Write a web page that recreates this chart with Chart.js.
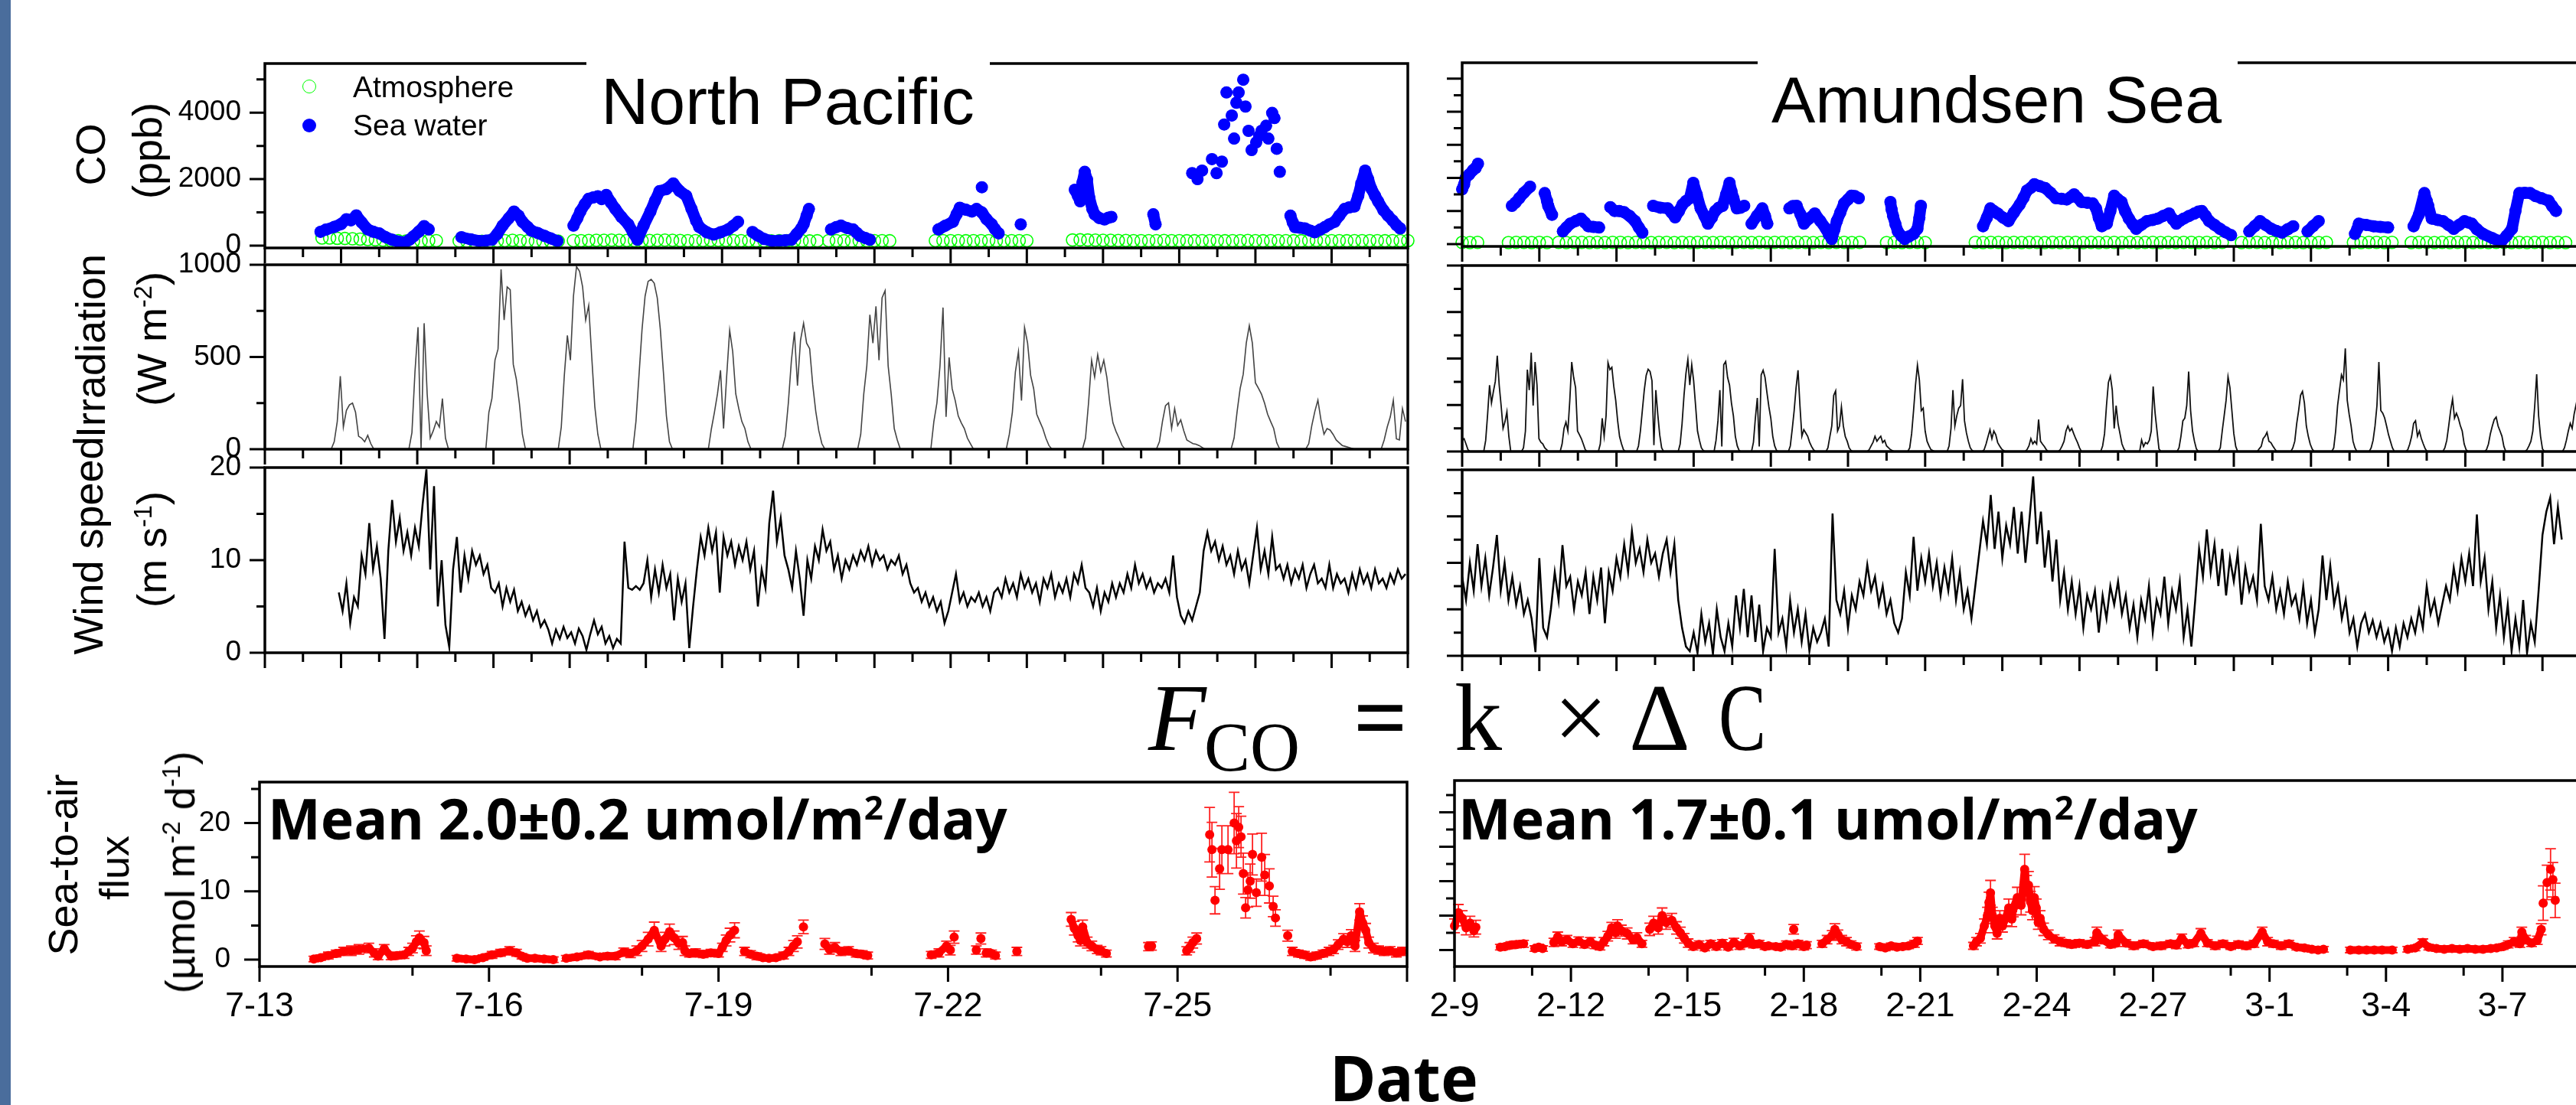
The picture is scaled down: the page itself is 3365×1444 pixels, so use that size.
<!DOCTYPE html>
<html>
<head>
<meta charset="utf-8">
<title>CO sea-to-air flux</title>
<script src="https://cdn.jsdelivr.net/npm/chart.js@4.4.1/dist/chart.umd.min.js"></script>
<style>
  html, body { margin: 0; padding: 0; background: #fff; }
  body { position: relative; width: 3365px; height: 1444px; overflow: hidden; }
  canvas { position: absolute; }
  .t { position: absolute; white-space: nowrap; line-height: 1; color: #000; }
  .rot { position: absolute; white-space: nowrap; line-height: 1; color: #000;
         font-family: 'Liberation Sans', Arial, sans-serif; font-size: 54px;
         transform: translate(-50%, -50%) rotate(-90deg); }
  sup { font-size: 0.6em; line-height: 0; vertical-align: 0.6em; }
  .mask { position: absolute; background: #fff; }
  .sym { position: absolute; width: 18px; height: 18px; border-radius: 50%; box-sizing: border-box; }
</style>
</head>
<body>
<div class="mask" style="left:0;top:0;width:14px;height:1444px;background:#4a6d9c"></div>
<script>
Chart.defaults.font.family = "'Liberation Sans', Arial, sans-serif";
Chart.defaults.color = '#000';

// ---- tick labels ----
const leftDateLabels = ['7-13', '7-16', '7-19', '7-22', '7-25'];
const leftDateDays = [0, 3, 6, 9, 12];
const rightDateLabels = ['2-9', '2-12', '2-15', '2-18', '2-21', '2-24', '2-27', '3-1', '3-4', '3-7'];
const rightDateDays = [0, 3, 6, 9, 12, 15, 18, 21, 24, 27];
const coTickLabels = [0, 2000, 4000];
const irrTickLabels = [0, 500, 1000];
const windTickLabels = [0, 10, 20];
const fluxTickLabels = [0, 10, 20];

// ---- CO (ppb), x = days since first date ----
const coSeaLeft = [
  [0.73,416],[0.8,480],[0.91,562],[1.0,650],[1.07,793],[1.13,760],[1.2,909],[1.27,700],[1.35,486],[1.42,420],[1.5,370],[1.58,260],[1.67,177],[1.75,120],[1.84,100],[1.9,180],[1.95,277],[2.02,420],[2.09,586],[2.15,486], null,
  [2.58,254],[2.7,190],[2.81,139],[2.9,150],[2.98,177],[3.05,350],[3.12,601],[3.2,820],[3.27,1025],[3.33,900],[3.38,717],[3.45,560],[3.5,447],[3.58,380],[3.67,293],[3.75,220],[3.84,139], null,
  [4.05,601],[4.1,820],[4.14,1025],[4.2,1250],[4.25,1410],[4.31,1450],[4.37,1487],[4.42,1400],[4.48,1525],[4.54,1300],[4.6,1102],[4.68,860],[4.77,640],[4.83,400],[4.89,177],[4.97,600],[5.06,1025],[5.12,1350],[5.18,1641],[5.27,1700],[5.36,1872],[5.44,1650],[5.53,1500],[5.6,1100],[5.66,750],[5.7,563],[5.8,400],[5.89,331],[5.98,400],[6.08,486],[6.15,600],[6.21,717], null,
  [6.4,409],[6.47,300],[6.55,200],[6.66,139],[6.75,150],[6.83,160],[6.91,177],[6.98,350],[7.04,520],[7.07,640],[7.11,900],[7.14,1102], null,
  [7.43,486],[7.5,560],[7.56,601],[7.64,530],[7.72,486],[7.77,380],[7.81,293],[7.88,230],[7.94,177], null,
  [8.84,486],[8.93,600],[9.03,717],[9.08,950],[9.12,1141],[9.2,1080],[9.28,1025],[9.34,1102],[9.41,1000],[9.47,800],[9.54,640],[9.58,500],[9.63,370], null,
  [9.41,1757], null, [9.92,640], null,
  [10.63,1680],[10.67,1500],[10.7,1333],[10.73,1900],[10.76,2219],[10.79,1988],[10.82,1448],[10.86,1100],[10.89,941],[10.95,830],[11.02,786],[11.07,840],[11.11,863], null,
  [11.66,941],[11.69,640], null,
  [12.17,2181], null, [12.24,2000], null, [12.3,2258], null, [12.43,2604], null, [12.49,2181], null, [12.56,2527], null,
  [12.59,3645], null, [12.62,4608], null, [12.69,3915], null, [12.72,3221], null, [12.75,4300], null, [12.78,4608], null,
  [12.84,4993], null, [12.87,4185], null, [12.91,3453], null, [12.95,2875], null, [13.01,3106], null, [13.05,3300], null,
  [13.08,3453], null, [13.14,3607], null, [13.17,3221], null, [13.22,3992], null, [13.25,3838], null, [13.28,2914], null, [13.32,2219], null,
  [13.46,902],[13.49,700],[13.52,555],[13.58,540],[13.65,517],[13.72,450],[13.78,401],[13.85,480],[13.91,555],[13.97,640],[14.04,717],[14.1,900],[14.17,1102],[14.23,1150],[14.3,1179],[14.35,1500],[14.39,1872],[14.44,2258],[14.48,2000],[14.52,1718],[14.57,1500],[14.61,1333],[14.68,1064],[14.74,900],[14.8,756],[14.85,620],[14.9,517]
];
const coSeaRight = [
  [0.0,1657],[0.05,1800],[0.09,2003],[0.18,2100],[0.28,2234],[0.35,2300],[0.41,2428], null,
  [1.29,1156],[1.38,1250],[1.48,1387],[1.6,1550],[1.76,1734], null,
  [2.14,1541],[2.2,1300],[2.23,1156],[2.33,886], null,
  [2.61,385],[2.7,500],[2.8,617],[2.95,700],[3.08,771],[3.18,650],[3.27,539],[3.4,520],[3.55,501], null,
  [3.84,1117],[3.95,1002],[4.07,1000],[4.2,963],[4.34,850],[4.48,694],[4.58,500],[4.67,347], null,
  [4.95,1156],[5.14,1100],[5.33,1079],[5.43,950],[5.52,809],[5.62,1000],[5.71,1194],[5.8,1300],[5.9,1387],[5.99,1849],[6.08,1500],[6.18,1079],[6.28,850],[6.37,617],[6.47,800],[6.56,1002],[6.65,1100],[6.75,1156],[6.84,1500],[6.93,1849],[6.98,1600],[7.03,1387],[7.12,1079],[7.22,1100],[7.31,1156], null,
  [7.5,617],[7.64,850],[7.78,1079],[7.85,850],[7.91,617], null,
  [8.48,1079],[8.57,1150],[8.67,1156],[8.77,900],[8.86,617],[9.0,780],[9.14,925],[9.28,700],[9.43,462],[9.5,300],[9.58,154],[9.65,450],[9.71,694],[9.8,950],[9.9,1233],[10.0,1350],[10.09,1464],[10.18,1450],[10.28,1387], null,
  [11.1,1272],[11.13,1050],[11.17,848],[11.23,600],[11.29,385],[11.38,250],[11.47,154],[11.58,230],[11.7,308],[11.8,462],[11.85,800],[11.89,1156], null,
  [13.5,539],[13.6,800],[13.69,1079],[13.78,1000],[13.88,925],[14.02,800],[14.16,694],[14.3,950],[14.45,1194],[14.55,1400],[14.64,1618],[14.74,1700],[14.83,1811],[14.97,1750],[15.11,1695],[15.25,1550],[15.39,1387],[15.53,1370],[15.67,1349],[15.77,1420],[15.86,1503],[15.95,1400],[16.05,1272],[16.2,1250],[16.34,1233],[16.43,1079],[16.5,800],[16.58,539],[16.71,617],[16.8,1000],[16.9,1464],[17.0,1350],[17.09,1272],[17.18,1000],[17.28,771],[17.38,600],[17.47,462],[17.6,580],[17.75,694],[17.9,730],[18.03,771],[18.17,850],[18.32,925],[18.42,750],[18.51,617],[18.6,700],[18.7,771],[18.84,850],[18.98,925],[19.08,980],[19.17,1002],[19.27,850],[19.36,694],[19.5,580],[19.64,462],[19.78,360],[19.93,270], null,
  [20.4,385],[20.54,540],[20.68,694],[20.82,580],[20.97,462],[21.1,400],[21.25,347],[21.4,450],[21.54,539], null,
  [21.91,385],[22.05,540],[22.2,694], null,
  [23.14,308],[23.2,460],[23.24,617],[23.43,580],[23.62,539],[23.8,520],[24.0,501], null,
  [24.66,539],[24.8,900],[24.94,1541],[25.0,1300],[25.04,1156],[25.13,771],[25.28,730],[25.42,694],[25.56,580],[25.7,462],[25.84,580],[25.98,694],[26.08,650],[26.17,617],[26.3,450],[26.46,308],[26.7,180],[26.93,77],[27.07,250],[27.21,462],[27.3,1002],[27.4,1541],[27.54,1550],[27.68,1541],[27.82,1450],[27.97,1387],[28.16,1310],[28.25,1150],[28.35,1002]
];
// atmosphere: [first day, values every atmLeftStep / atmRightStep days]
const atmLeftStep = 0.1;
const atmLeft = [
  [0.75, [230,230,220,215,205,195,185,175,165,155,145,135,130,140,150,150]],
  [2.55, [140,135,130,130,135,140,150,160,150,140,135,130,130,135]],
  [4.05, [150,150,155,160,160,165,160,155,150,150,155,160,165,160,155,150,150,155,160,160,155,150,150]],
  [6.35, [150,145,140,140,145,150,150,145,140,145]],
  [7.4, [150,150,145,140,140,145,150,150,145]],
  [8.8, [150,150,150]],
  [9.1, [150,145,150]],
  [9.4, [150,150,145,150,150]],
  [9.9, [150,150]],
  [10.6, [170,175,170,165,160,160,155,155,150,150,150,150,155,150,150,145,145,150,150,150,145,150,150,155,150,145,150,150,150,145,145,150,155,150,150,150,145,150,150,150,150,145,150,150,150]]
];
const atmRightStep = 0.2;
const atmRight = [
  [0.0, [50,45,50]],
  [1.2, [45,50,50,45,50,45]],
  [2.5, [50,45,50,50,45,50,45,50,50,45,50,45]],
  [4.9, [45,50,50,45,50,45,50,50,45,50,45,50,50,45,50,45,50]],
  [8.3, [50,45,50,50,45,50,45,50,50,45,50]],
  [11.0, [45,50,45,50,50,45]],
  [13.3, [50,45,50,50,45,50,45,50,50,45,50,45,50,50,45,50,45,50,50,45,50,45,50,50,45,50,45,50,50,45,50,45,50]],
  [20.2, [45,50,50,45,50,45,50,50,45,50,45,50]],
  [23.1, [50,45,50,50,45,50]],
  [24.6, [45,50,50,45,50,45,50,50,45,50,45,50,50,45,50,45,50,50,45,50,45]]
];

// ---- irradiation (W m-2): [first day, values every step] for each daylight period ----
const irrLeftStep = 0.04;
const irrLeft = [
  [0.87, [0,40,150,396,120,210,240,250,200,70,60,40,75,30,0]],
  [1.89, [0,90,420,662,0,683,300,60,100,150,120,275,60,0]],
  [2.90, [0,200,275,483,543,975,700,880,865,460,380,250,80,0]],
  [3.85, [0,120,400,617,483,830,990,964,880,700,780,500,232,80,0]],
  [4.83, [0,150,400,650,830,910,921,900,820,650,420,180,40,0]],
  [5.82, [0,110,200,300,428,112,391,645,529,300,220,150,112,40,0]],
  [6.79, [0,70,250,480,637,345,591,683,575,545,350,205,100,30,0]],
  [7.78, [0,80,300,452,729,575,775,483,821,860,452,298,112,50,0]],
  [8.74, [0,150,251,450,768,175,498,328,264,180,143,112,60,30,0]],
  [9.73, [0,80,200,420,529,264,660,575,400,328,190,150,112,60,20,0]],
  [10.73, [0,60,251,483,391,513,420,483,391,250,143,97,60,20,0]],
  [11.70, [0,40,150,236,251,112,220,128,159,100,50,40,30,27,20,10,0]],
  [12.68, [0,60,205,330,406,575,670,575,360,330,298,250,190,150,112,35,0]],
  [13.66, [0,30,128,205,266,159,81,112,104,80,50,35,20,15,10,5,0]],
  [14.65, [0,50,120,175,266,56,50,220,150]]
];
const irrRightStep = 0.05;
const irrRight = [
  [0.0, [60,69,40,10,0]],
  [0.56, [0,60,200,357,261,323,378,515,357,247,124,160,213,82,0]],
  [1.54, [0,20,110,440,330,532,247,481,357,69,50,41,20,10,0]],
  [2.54, [0,40,124,158,110,275,481,398,343,110,90,69,40,10,0]],
  [3.53, [0,40,179,82,192,478,440,453,350,275,165,80,41,10,0]],
  [4.52, [0,30,110,220,330,410,442,430,380,34,330,200,90,20,0]],
  [5.60, [0,40,150,302,419,495,357,467,380,247,110,60,20,5,0]],
  [6.53, [0,60,165,330,27,467,484,398,357,260,192,82,30,5,0]],
  [7.50, [0,50,180,288,27,412,437,398,316,240,179,82,30,5,0]],
  [8.455, [0,30,120,220,343,437,247,82,117,100,82,50,27,10,0]],
  [9.43, [0,20,80,137,302,326,110,137,240,137,80,55,20,5,0]],
  [10.5, [0,10,30,50,82,55,70,82,48,60,30,20,10,5,0]],
  [11.55, [0,20,96,220,357,464,385,220,233,110,55,30,10,5,0]],
  [12.57, [0,30,124,330,137,192,233,247,389,165,100,55,20,5,0]],
  [13.48, [0,10,41,80,117,69,110,90,48,30,14,5,0]],
  [14.59, [0,10,30,69,41,55,40,172,55,40,27,10,0]],
  [15.45, [0,10,30,55,110,137,110,124,96,70,48,20,0]],
  [16.55, [0,30,96,247,371,405,330,124,247,150,96,41,15,0]],
  [17.56, [0,62,27,48,41,60,110,350,206,110,14,0]],
  [18.53, [0,20,82,165,179,247,430,220,110,55,14,0]],
  [19.60, [0,20,110,192,275,402,343,220,96,27,0]],
  [20.61, [0,15,27,69,82,103,55,48,30,14,0]],
  [21.48, [0,20,55,150,220,302,323,261,137,82,40,14,0]],
  [22.54, [0,20,110,247,330,412,385,554,275,200,137,55,20,0]],
  [23.51, [0,20,60,137,247,481,220,206,180,137,90,55,20,0]],
  [24.46, [0,10,40,82,151,165,82,110,70,41,15,0]],
  [25.42, [0,20,60,137,220,282,179,206,179,140,110,41,10,0]],
  [26.50, [0,10,40,96,137,172,185,137,110,82,27,0]],
  [27.55, [0,10,30,55,110,247,415,192,82,14,0]],
  [28.52, [0,20,60,110,151,124,200,250,200,120,60,20,0]]
];

// ---- wind speed (m s-1) ----
const windLeftStart = 0.97, windLeftStep = 0.05;
const windLeft = [
  6.5,4.5,7.5,3.2,6.0,5.0,10.5,8.5,14.0,9.0,11.5,8.0,1.5,11.0,16.5,12.0,14.5,11.0,13.0,10.5,
  13.5,11.5,16.0,19.8,9.0,18.0,5.0,10.0,3.0,0.6,9.0,12.5,6.5,10.5,8.0,11.0,9.5,10.5,8.5,9.5,
  7.0,6.5,7.5,5.0,7.0,5.5,6.8,4.5,5.5,4.0,5.0,3.5,4.5,2.8,3.5,2.5,1.0,2.5,1.5,2.8,
  1.6,2.2,1.0,2.6,1.8,0.3,2.0,3.5,2.0,2.8,1.0,1.8,0.5,1.5,1.0,12.0,7.0,6.8,7.2,6.8,
  7.5,10.0,6.0,9.0,6.5,9.5,7.0,8.5,3.5,8.0,5.5,7.5,0.5,5.0,9.0,12.5,10.5,13.5,11.0,13.0,
  6.5,12.5,10.5,12.0,9.5,11.5,10.0,12.0,9.0,11.0,5.0,9.0,7.0,14.0,17.5,12.0,14.5,10.5,9.0,7.0,
  11.0,8.0,4.0,10.0,8.0,11.5,10.0,13.3,11.0,12.0,9.0,10.5,8.0,10.0,9.0,10.5,9.5,11.0,10.0,11.5,
  9.5,11.0,10.0,10.5,9.0,10.0,9.5,10.5,8.5,9.5,7.5,6.5,7.0,5.5,6.5,5.0,6.0,4.5,5.5,3.2,
  4.5,6.5,8.5,5.5,6.5,5.0,6.0,5.5,6.5,5.0,6.0,4.5,6.5,7.0,6.0,8.0,6.5,7.5,6.0,8.5,
  7.0,8.0,6.5,7.5,5.5,8.0,7.0,8.5,6.0,7.5,6.5,8.0,6.0,8.5,7.5,9.5,7.0,6.5,5.0,7.0,
  4.5,6.5,5.5,7.5,6.0,7.5,6.5,8.5,7.0,9.5,7.5,8.5,7.0,8.0,6.5,7.5,7.0,8.0,6.5,10.5,
  6.0,4.0,3.2,4.5,3.5,5.0,6.5,11.0,13.0,11.0,12.0,10.0,11.5,9.5,10.5,8.5,11.0,9.0,10.0,7.5,
  10.5,13.5,9.0,11.0,8.5,12.5,9.0,9.5,8.0,9.5,7.5,9.0,8.0,9.5,7.0,8.5,9.5,7.5,8.0,7.0,
  9.5,7.0,8.5,7.5,8.0,6.5,8.5,7.0,9.0,7.5,8.5,7.0,9.0,7.5,8.0,7.0,8.5,7.5,9.0,8.0,
  8.5
];
const windRightStart = 0, windRightStep = 0.1;
const windRight = [
  8.5,6.0,10.0,7.0,12.0,7.5,10.5,6.5,9.5,13.0,7.0,10.0,6.0,8.5,5.5,7.5,4.5,6.0,4.0,
  0.4,10.5,3.0,2.0,5.0,
  9.0,6.0,11.9,7.5,8.5,5.0,8.0,6.5,9.0,4.5,8.5,6.0,9.5,3.5,9.0,7.0,
  10.5,8.5,12.0,9.0,13.4,10.0,11.5,9.0,12.5,10.0,11.0,8.5,11.0,12.5,9.0,12.0,6.0,
  3.0,1.0,0.5,
  2.5,0.3,4.5,1.5,3.5,0.2,5.0,2.0,0.5,3.5,1.0,6.5,3.0,7.2,2.0,6.5,1.5,5.5,0.5,3.0,2.0,11.5,2.5,4.0,1.0,6.0,2.5,5.0,1.5,4.5,0.5,3.0,1.5,2.5,4.0,1.0,
  15.3,
  6.0,4.5,7.0,3.0,6.5,5.0,8.0,6.5,9.8,7.0,8.5,5.5,7.5,4.5,6.0,3.5,2.5,4.0,
  9.0,6.5,12.8,7.0,10.5,8.0,11.0,7.5,10.0,6.5,9.5,7.0,10.5,6.0,9.0,5.0,7.0,4.0,7.5,
  11.0,14.5,12.0,17.3,11.5,15.5,10.5,14.0,12.0,16.0,11.0,15.5,10.0,14.5,19.3,12.0,15.5,9.5,13.5,8.0,12.5,
  6.0,9.0,5.0,8.0,4.5,7.5,3.0,6.5,5.0,7.0,2.5,6.5,4.0,7.5,5.5,8.0,4.5,6.5,3.0,5.5,2.0,6.0,4.0,7.5,2.5,6.0,4.5,8.5,3.5,7.0,5.0,8.0,2.0,5.0,1.0,
  6.0,11.5,8.5,13.6,9.0,12.0,7.5,11.5,6.5,10.5,8.0,11.0,5.5,9.5,7.0,8.5,6.0,
  14.2,
  7.5,6.0,8.5,5.0,7.0,4.5,8.0,5.5,6.5,4.0,7.5,3.5,6.0,2.5,5.0,10.8,6.0,9.7,5.5,7.5,4.0,6.0,2.5,
  4.0,1.0,3.5,4.5,2.5,3.8,2.0,3.5,1.5,2.8,0.5,3.0,1.0,3.5,2.0,4.0,2.5,5.0,3.0,7.5,4.5,6.0,3.5,
  5.5,7.5,6.0,9.5,7.0,10.5,8.0,11.0,7.5,15.2,8.0,10.5,5.0,8.0,3.0,6.5,
  2.0,5.5,0.5,4.0,1.0,6.0,0.3,3.5,1.5,7.0,
  13.0,15.5,17.0,12.0,16.0,12.5
];

// ---- sea-to-air flux (umol m-2 d-1): [day, value, error] ----
const fluxLeft = [
  [0.71,0.1,0.4],[0.8,0.3,0.4],[0.9,0.6,0.5],[1.0,0.9,0.5],[1.1,1.2,0.6],[1.2,1.3,0.7],[1.3,1.5,0.7],[1.43,1.7,0.7],[1.5,1.0,0.6],[1.55,0.5,0.5],[1.63,1.6,0.6],[1.72,0.5,0.5],[1.8,0.6,0.5],[1.89,0.7,0.5],[1.95,1.2,0.6],[2.0,1.7,0.7],[2.05,2.6,0.9],[2.09,3.2,1.0],[2.15,2.5,0.9],[2.18,1.3,0.7], null,
  [2.58,0.2,0.4],[2.7,0.1,0.4],[2.81,0.0,0.4],[2.92,0.3,0.4],[3.04,0.7,0.5],[3.15,1.0,0.5],[3.27,1.3,0.6],[3.36,1.0,0.5],[3.43,0.5,0.4],[3.5,0.2,0.4],[3.6,0.2,0.4],[3.72,0.1,0.4],[3.84,0.0,0.4], null,
  [4.01,0.2,0.4],[4.15,0.4,0.4],[4.3,0.7,0.5],[4.45,0.4,0.4],[4.55,0.5,0.5],[4.65,0.5,0.5],[4.76,1.1,0.6],[4.85,0.9,0.6],[4.93,1.3,0.7],[5.0,2.0,0.8],[5.08,3.0,1.0],[5.16,4.3,1.2],[5.25,2.0,0.8],[5.3,3.0,1.0],[5.36,4.1,1.1],[5.42,3.2,1.0],[5.48,2.4,0.9],[5.53,2.5,0.9],[5.56,1.3,0.7],[5.62,0.9,0.5],[5.7,1.0,0.6],[5.8,0.8,0.5],[5.9,1.0,0.5],[6.0,0.9,0.5],[6.05,1.8,0.6],[6.1,2.8,0.8],[6.15,3.6,1.0],[6.21,4.3,1.1], null,
  [6.34,1.2,0.6],[6.42,0.8,0.5],[6.5,0.5,0.5],[6.58,0.3,0.4],[6.66,0.2,0.4],[6.75,0.3,0.4],[6.85,0.6,0.5],[6.92,1.2,0.6],[6.98,2.0,0.8],[7.03,2.6,0.9], null, [7.11,4.8,1.0], null,
  [7.39,2.3,0.8],[7.45,1.5,0.7],[7.52,1.8,0.7],[7.6,1.2,0.6],[7.7,1.3,0.6],[7.8,0.9,0.5],[7.88,0.8,0.5],[7.95,0.6,0.5], null,
  [8.78,0.7,0.5],[8.88,1.0,0.6],[8.98,2.0,0.7],[9.03,1.4,0.7], null, [9.08,3.3,0.9], null,
  [9.37,1.4,0.6], null, [9.43,3.1,0.8], null, [9.5,1.0,0.6],[9.57,0.9,0.5],[9.62,0.6,0.5], null, [9.9,1.2,0.6], null,
  [10.61,5.9,1.0],[10.65,4.6,1.0],[10.7,3.5,0.9],[10.73,2.8,0.8],[10.76,4.8,1.0],[10.82,2.5,0.8],[10.88,2.0,0.7],[10.95,1.5,0.6],[11.0,1.3,0.6],[11.07,0.9,0.5], null,
  [11.62,1.9,0.6],[11.66,2.0,0.6], null,
  [12.12,1.3,0.6],[12.16,1.8,0.7],[12.2,2.5,0.8],[12.25,3.1,0.8], null,
  [12.42,18.3,4.0], null, [12.45,16.1,4.0], null, [12.49,8.7,2.0], null, [12.55,13.3,3.0], null, [12.58,16.1,3.5], null,
  [12.66,16.1,3.5], null, [12.74,20.0,4.5], null, [12.77,17.4,4.0], null, [12.8,19.4,3.0], null, [12.83,18.0,3.0], null,
  [12.86,12.6,3.0], null, [12.89,7.6,1.5], null, [12.92,10.2,2.5], null, [12.95,11.5,2.5], null, [12.98,15.4,3.0], null,
  [13.03,9.8,2.0], null, [13.1,15.0,3.5], null, [13.14,12.4,3.0], null, [13.2,10.8,2.5], null, [13.25,7.8,1.5], null,
  [13.28,6.1,1.2], null, [13.44,3.5,0.8], null,
  [13.5,1.2,0.6],[13.58,0.9,0.5],[13.66,0.7,0.5],[13.74,0.4,0.5],[13.82,0.6,0.5],[13.9,0.9,0.5],[13.98,1.2,0.6],[14.04,1.5,0.6],[14.1,2.2,0.7],[14.17,3.0,0.8],[14.22,2.6,0.8],[14.27,3.5,0.9],[14.32,2.0,0.8],[14.38,7.0,1.2],[14.42,5.4,1.0],[14.46,4.3,1.0],[14.5,2.5,0.8],[14.56,1.7,0.7],[14.63,1.4,0.6],[14.7,1.2,0.6],[14.78,1.3,0.6],[14.86,1.0,0.6],[14.94,1.2,0.6]
];
const fluxRight = [
  [0.0,3.5,1.0],[0.1,5.4,1.2],[0.2,4.6,1.1],[0.3,3.2,1.0],[0.4,3.9,1.0],[0.5,2.8,0.9],[0.55,3.3,1.0], null,
  [1.18,0.4,0.4],[1.3,0.5,0.4],[1.45,0.7,0.5],[1.6,0.8,0.5],[1.78,0.9,0.5], null,
  [2.07,0.2,0.4],[2.17,0.4,0.4],[2.27,0.2,0.4], null,
  [2.56,1.1,0.6],[2.66,1.9,0.7],[2.76,1.2,0.6],[2.9,1.5,0.6],[3.05,0.9,0.5],[3.2,1.3,0.6],[3.35,0.8,0.5],[3.5,1.2,0.6],[3.62,0.7,0.5],[3.75,0.5,0.5], null,
  [3.85,1.2,0.6],[3.95,2.0,0.7],[4.05,3.2,0.8],[4.15,2.5,0.8],[4.2,3.5,0.9],[4.3,2.8,0.8],[4.45,2.4,0.8],[4.6,1.5,0.6],[4.7,1.8,0.7],[4.83,0.9,0.5], null,
  [5.03,3.0,0.9],[5.13,3.9,1.0],[5.25,3.2,0.9],[5.35,5.0,1.1],[5.45,4.0,1.0],[5.6,4.3,1.0],[5.72,3.2,0.9],[5.82,2.5,0.8],[5.92,1.7,0.7],[6.02,1.0,0.6],[6.15,0.5,0.5],[6.3,0.8,0.5],[6.45,0.3,0.4],[6.6,0.9,0.5],[6.75,0.5,0.5],[6.9,1.0,0.5],[7.05,0.4,0.4],[7.2,1.1,0.6],[7.35,0.6,0.5],[7.5,1.0,0.5],[7.6,1.7,0.7],[7.7,0.8,0.5],[7.85,0.9,0.5],[8.0,0.5,0.4],[8.09,0.6,0.4], null,
  [8.28,0.5,0.4],[8.4,0.4,0.4],[8.55,0.8,0.5],[8.7,0.6,0.5],[8.85,0.9,0.5],[9.0,0.5,0.5],[9.07,0.7,0.5], null, [8.74,3.0,0.7], null,
  [9.47,0.9,0.5],[9.6,1.5,0.6],[9.73,2.1,0.7],[9.8,3.0,0.8],[9.88,2.2,0.7],[9.98,1.5,0.6],[10.1,1.2,0.6],[10.22,0.8,0.5],[10.36,0.5,0.5], null,
  [10.95,0.5,0.4],[11.1,0.3,0.4],[11.25,0.6,0.4],[11.4,0.4,0.4],[11.55,0.5,0.4],[11.7,0.6,0.4],[11.85,0.9,0.5],[11.93,1.3,0.5], null,
  [13.37,0.6,0.5],[13.45,1.2,0.6],[13.55,1.7,0.7],[13.65,3.5,1.0],[13.73,5.0,1.2],[13.77,6.9,1.5],[13.81,8.3,1.8],[13.86,5.0,1.2],[13.92,3.5,1.0],[13.98,2.4,0.8],[14.05,4.6,1.1],[14.12,3.5,0.9],[14.2,4.6,1.1],[14.28,6.1,1.3],[14.36,4.5,1.1],[14.4,6.1,1.3],[14.5,7.6,1.5],[14.6,6.5,1.4],[14.69,11.7,2.2],[14.74,9.0,1.8],[14.79,9.4,2.0],[14.84,7.0,1.5],[14.89,5.7,1.3],[14.94,7.6,1.6],[14.99,6.1,1.3],[15.04,4.0,1.0],[15.09,4.6,1.1],[15.18,3.0,0.9],[15.3,2.2,0.7],[15.45,1.6,0.6],[15.6,1.2,0.6],[15.75,1.0,0.5],[15.9,0.8,0.5],[15.98,0.9,0.5],
  [16.1,1.0,0.5],[16.3,0.8,0.5],[16.5,1.2,0.6],[16.55,2.5,0.8],[16.7,1.5,0.6],[16.9,0.8,0.5],[17.05,1.0,0.5],[17.1,2.2,0.7],[17.3,1.0,0.5],[17.5,0.6,0.5],[17.75,0.9,0.5],[18.0,0.5,0.4],[18.2,0.6,0.5],[18.45,0.9,0.5],[18.6,0.7,0.5],[18.74,1.7,0.6],[18.9,0.8,0.5],[19.05,1.0,0.5],[19.23,2.4,0.7],[19.4,1.0,0.5],[19.6,0.6,0.5],[19.8,0.9,0.5],[20.0,0.5,0.4],[20.2,0.8,0.5],[20.4,0.6,0.5],[20.6,0.9,0.5],[20.81,2.6,0.7],[20.95,1.2,0.6],[21.1,0.9,0.5],[21.3,0.6,0.5],[21.5,0.9,0.5],[21.7,0.4,0.4],[21.9,0.3,0.4],[22.09,0.1,0.4],[22.25,0.0,0.4],[22.39,0.1,0.4], null,
  [23.08,0.0,0.4],[23.3,0.0,0.4],[23.5,0.0,0.4],[23.7,0.0,0.4],[23.9,0.0,0.4],[24.16,0.0,0.4], null,
  [24.56,0.1,0.4],[24.75,0.3,0.4],[24.95,1.1,0.5],[25.1,0.4,0.4],[25.3,0.2,0.4],[25.5,0.1,0.4],[25.7,0.2,0.4],[25.9,0.1,0.4],[26.1,0.2,0.4],[26.3,0.1,0.4],[26.5,0.1,0.4],[26.7,0.2,0.4],[26.85,0.3,0.4],[27.02,0.5,0.4],[27.15,0.8,0.5],[27.3,1.2,0.6],[27.45,0.9,0.5],[27.5,2.6,0.7],[27.6,1.5,0.6],[27.75,1.0,0.5],[27.9,1.4,0.6],[28.0,3.0,0.8], null,
  [28.05,6.8,2.5], null, [28.15,9.8,2.5], null, [28.24,11.7,3.0], null, [28.3,10.2,2.5], null, [28.36,7.2,2.5]
];

// ---- helpers ----
function pairs(list) {
  const out = [];
  let lastX = 0;
  for (const p of list) {
    if (p) { out.push({x: p[0], y: p[1], e: p[2]}); lastX = p[0]; }
    else out.push({x: lastX, y: null});
  }
  return out;
}
function stepped(segs, step) {
  const out = [];
  for (const [start, vals] of segs) {
    vals.forEach((v, i) => out.push({x: +(start + i * step).toFixed(3), y: v}));
  }
  return out;
}
function series(start, step, vals) {
  return vals.map((v, i) => ({x: +(start + i * step).toFixed(3), y: v}));
}
function range(a, b, s) {
  const r = [];
  for (let v = a; v <= b + 1e-9; v += s) r.push(+v.toFixed(3));
  return r;
}

// frame + outward tick marks, through the chart scales
const framePlugin = {
  id: 'frame',
  afterDraw(chart, args, o) {
    const {ctx, chartArea: a} = chart;
    const sx = chart.scales.x, sy = chart.scales.y;
    ctx.save();
    ctx.strokeStyle = '#000';
    ctx.lineWidth = 3.5;
    ctx.strokeRect(a.left, a.top, a.right - a.left, a.bottom - a.top);
    ctx.lineWidth = 3;
    ctx.beginPath();
    for (const [vals, len] of [[o.xMajor, 20], [o.xMinor, 12]]) {
      for (const v of vals) {
        const px = sx.getPixelForValue(v);
        ctx.moveTo(px, a.bottom); ctx.lineTo(px, a.bottom + len);
      }
    }
    for (const [vals, len] of [[o.yMajor, 20], [o.yMinor, 11]]) {
      for (const v of vals) {
        const py = sy.getPixelForValue(v);
        ctx.moveTo(a.left, py); ctx.lineTo(a.left - len, py);
      }
    }
    ctx.stroke();
    ctx.restore();
  }
};

const errPlugin = {
  id: 'errbars',
  beforeDatasetsDraw(chart, args, o) {
    if (!o.on) return;
    const {ctx} = chart;
    const sx = chart.scales.x, sy = chart.scales.y;
    ctx.save();
    ctx.strokeStyle = o.color;
    ctx.lineWidth = 1.8;
    ctx.beginPath();
    for (const p of chart.data.datasets[0].data) {
      if (p.y == null || !p.e) continue;
      const px = sx.getPixelForValue(p.x);
      const y1 = sy.getPixelForValue(p.y - p.e), y2 = sy.getPixelForValue(p.y + p.e);
      ctx.moveTo(px, y1); ctx.lineTo(px, y2);
      ctx.moveTo(px - 7, y1); ctx.lineTo(px + 7, y1);
      ctx.moveTo(px - 7, y2); ctx.lineTo(px + 7, y2);
    }
    ctx.stroke();
    ctx.restore();
  }
};

function panel(b, xr, yr, datasets, frame, yl, xl, err) {
  const c = document.createElement('canvas');
  c.width = b.w + b.mL + b.mR;
  c.height = b.h + b.mT + b.mB;
  c.style.left = (b.x - b.mL) + 'px';
  c.style.top = (b.y - b.mT) + 'px';
  document.body.appendChild(c);
  new Chart(c, {
    type: 'scatter',
    data: {datasets},
    options: {
      responsive: false,
      animation: false,
      events: [],
      layout: {padding: {top: b.mT, right: b.mR, left: 0, bottom: 0}},
      plugins: {
        legend: {display: false},
        tooltip: {enabled: false},
        frame,
        errbars: err || {on: false}
      },
      scales: {
        x: {
          type: 'linear', min: xr[0], max: xr[1],
          grid: {display: false, drawTicks: false},
          border: {display: false},
          ticks: xl ? {display: true, font: {size: 45}, padding: 26, maxRotation: 0, autoSkip: false,
                       callback: (v, i) => xl.labels[i]} : {display: false},
          afterBuildTicks: xl ? (s => { s.ticks = xl.days.map(v => ({value: v})); }) : undefined,
          afterFit: s => { s.height = b.mB; s.paddingLeft = 0; s.paddingRight = 0; }
        },
        y: {
          type: 'linear', min: yr[0], max: yr[1],
          grid: {display: false, drawTicks: false},
          border: {display: false},
          ticks: yl ? {display: true, font: {size: 37}, padding: yl.pad, autoSkip: false,
                       callback: v => String(v)} : {display: false},
          afterBuildTicks: yl ? (s => { s.ticks = yl.vals.map(v => ({value: v})); }) : undefined,
          afterFit: s => { s.width = b.mL; s.paddingTop = 0; s.paddingBottom = 0; }
        }
      }
    },
    plugins: [framePlugin, errPlugin]
  });
}

const ringStyle = {showLine: false, pointRadius: 8, pointBorderWidth: 1.6, pointBorderColor: '#00ff00',
                   pointBackgroundColor: 'rgba(0,0,0,0)', order: 2, clip: 14};
const blueStyle = {showLine: true, spanGaps: false, borderColor: '#0000ff', borderWidth: 15,
                   borderCapStyle: 'round', borderJoinStyle: 'round', pointRadius: 8, pointBorderWidth: 0,
                   pointBackgroundColor: '#0000ff', order: 1, clip: 14};
const redStyle = {showLine: true, spanGaps: false, borderColor: '#ff0000', borderWidth: 10,
                  borderCapStyle: 'round', borderJoinStyle: 'round', pointRadius: 6, pointBorderWidth: 0,
                  pointBackgroundColor: '#ff0000', clip: 20};
const irrStyle = {showLine: true, borderColor: '#444', borderWidth: 1.6, pointRadius: 0};
const windStyle = {showLine: true, borderColor: '#000', borderWidth: 2.5, pointRadius: 0};

// ---- left column (North Pacific) ----
const upL = {xMajor: range(0, 15, 1), xMinor: range(0.5, 14.5, 1)};
panel({x: 346, y: 83, w: 1493, h: 241, mL: 170, mR: 12, mT: 30, mB: 40}, [0, 15], [-70, 5480],
  [{...ringStyle, data: stepped(atmLeft, atmLeftStep)}, {...blueStyle, data: pairs(coSeaLeft)}],
  {...upL, yMajor: [0, 2000, 4000], yMinor: [1000, 3000, 5000]}, {vals: coTickLabels, pad: 31});
panel({x: 346, y: 346, w: 1493, h: 241, mL: 170, mR: 12, mT: 30, mB: 40}, [0, 15], [0, 1000],
  [{...irrStyle, data: stepped(irrLeft, irrLeftStep)}],
  {...upL, yMajor: [0, 500, 1000], yMinor: [250, 750]}, {vals: irrTickLabels, pad: 31});
panel({x: 346, y: 611, w: 1493, h: 242, mL: 170, mR: 12, mT: 30, mB: 40}, [0, 15], [0, 20],
  [{...windStyle, data: series(windLeftStart, windLeftStep, windLeft)}],
  {...upL, yMajor: [0, 10, 20], yMinor: [5, 15]}, {vals: windTickLabels, pad: 31});
panel({x: 339, y: 1022, w: 1499, h: 241, mL: 170, mR: 12, mT: 30, mB: 110}, [0, 15], [-1, 26],
  [{...redStyle, data: pairs(fluxLeft)}],
  {xMajor: [0, 3, 6, 9, 12, 15], xMinor: [2, 5, 8, 11, 14], yMajor: [0, 10, 20], yMinor: [5, 15, 25]},
  {vals: fluxTickLabels, pad: 38}, {labels: leftDateLabels, days: leftDateDays}, {on: true, color: '#ff2020'});

// ---- right column (Amundsen Sea) ----
const upR = {xMajor: range(0, 30, 2), xMinor: range(1, 29, 2)};
panel({x: 1910, y: 82, w: 1512, h: 240, mL: 60, mR: 12, mT: 30, mB: 40}, [0, 30], [-70, 5480],
  [{...ringStyle, data: stepped(atmRight, atmRightStep)}, {...blueStyle, data: pairs(coSeaRight)}],
  {...upR, yMajor: range(0, 5000, 1000), yMinor: range(500, 4500, 1000)}, null);
panel({x: 1910, y: 347, w: 1512, h: 243, mL: 60, mR: 12, mT: 30, mB: 40}, [0, 30], [0, 1000],
  [{...irrStyle, borderColor: '#111', borderWidth: 1.8, data: stepped(irrRight, irrRightStep)}],
  {...upR, yMajor: [0, 250, 500, 750, 1000], yMinor: [125, 375, 625, 875]}, null);
panel({x: 1910, y: 614, w: 1512, h: 243, mL: 60, mR: 12, mT: 30, mB: 40}, [0, 30], [0, 20],
  [{...windStyle, data: series(windRightStart, windRightStep, windRight)}],
  {...upR, yMajor: [0, 5, 10, 15, 20], yMinor: [2.5, 7.5, 12.5, 17.5]}, null);
panel({x: 1900, y: 1020, w: 1521, h: 243, mL: 60, mR: 12, mT: 30, mB: 110}, [0, 30], [-2.4, 24.6],
  [{...redStyle, data: pairs(fluxRight)}],
  {xMajor: range(0, 30, 3), xMinor: range(2, 29, 3), yMajor: [0, 5, 10, 15, 20], yMinor: range(2.5, 22.5, 5)},
  null, {labels: rightDateLabels, days: rightDateDays}, {on: true, color: '#ff2020'});

// ---- texts ----
const SANS = "'Liberation Sans', Arial, sans-serif";
const NOTO = "'Noto Sans', 'Open Sans', sans-serif";
const SERIF = "'Liberation Serif', 'DejaVu Serif', serif";
function addText(html, x, base, size, o = {}) {
  const d = document.createElement('div');
  d.className = 't';
  d.innerHTML = html;
  d.style.fontFamily = o.family || SANS;
  d.style.fontSize = size + 'px';
  if (o.bold) d.style.fontWeight = '700';
  if (o.italic) d.style.fontStyle = 'italic';
  d.style.left = x + 'px';
  d.style.top = (base - (o.k || 0.8465) * size) + 'px';
  if (o.center) d.style.transform = 'translateX(-50%)';
  if (o.sx) { d.style.transform = 'scaleX(' + o.sx + ')'; d.style.transformOrigin = 'left top'; }
  document.body.appendChild(d);
}
function addRot(html, cx, cy) {
  const d = document.createElement('div');
  d.className = 'rot';
  d.innerHTML = html;
  d.style.left = cx + 'px';
  d.style.top = cy + 'px';
  document.body.appendChild(d);
}
function addBox(cls, l, t, w, h, style) {
  const d = document.createElement('div');
  d.className = cls;
  d.style.cssText += `left:${l}px;top:${t}px;width:${w}px;height:${h}px;` + (style || '');
  document.body.appendChild(d);
}

// panel titles break the top frame
addBox('mask', 766, 75, 527, 17);
addText('North Pacific', 1029, 162, 86, {center: true});
addBox('mask', 2296, 74, 627, 17);
addText('Amundsen Sea', 2608, 160, 86, {center: true});

// legend
addBox('sym', 395, 104, 18, 18, 'border:1.6px solid #00ff00;');
addBox('sym', 395, 155, 18, 18, 'background:#0000ff;');
addText('Atmosphere', 461, 127, 39);
addText('Sea water', 461, 177, 39);

// axis titles
addRot('CO', 118, 202);
addRot('(ppb)', 192, 197);
addRot('Irradiation', 118, 452);
addRot('(W m<sup>-2</sup>)', 198, 443);
addRot('Wind speed', 115, 713);
addRot('(m s<sup>-1</sup>)', 198, 718);
addRot('Sea-to-air', 82, 1130);
addRot('flux', 149, 1134);
addRot('(\u00b5mol m<sup>-2</sup> d<sup>-1</sup>)', 235, 1140);

// means
addText('Mean 2.0\u00b10.2 umol/m<sup>2</sup>/day', 350, 1097, 73, {family: NOTO, bold: true, k: 0.888});
addText('Mean 1.7\u00b10.1 umol/m<sup>2</sup>/day', 1905, 1097, 73, {family: NOTO, bold: true, k: 0.888});

// formula F_CO = k x delta C
addText('F', 1500, 981, 124, {family: SERIF, italic: true, k: 0.8375});
addText('CO', 1573, 1007, 90, {family: SERIF, k: 0.8375});
addText('=', 1768, 981, 124, {family: SERIF, bold: true, k: 0.8375});
addText('k', 1900, 981, 124, {family: SERIF, k: 0.8375});
addText('\u00d7', 2030, 981, 124, {family: SERIF, k: 0.8375});
addText('\u0394', 2128, 981, 124, {family: SERIF, k: 0.8375});
addText('C', 2245, 981, 124, {family: SERIF, k: 0.8375, sx: 0.75});

// x axis title
addText('Date', 1834, 1439, 82, {family: NOTO, bold: true, k: 0.888, center: true});
</script>
</body>
</html>
